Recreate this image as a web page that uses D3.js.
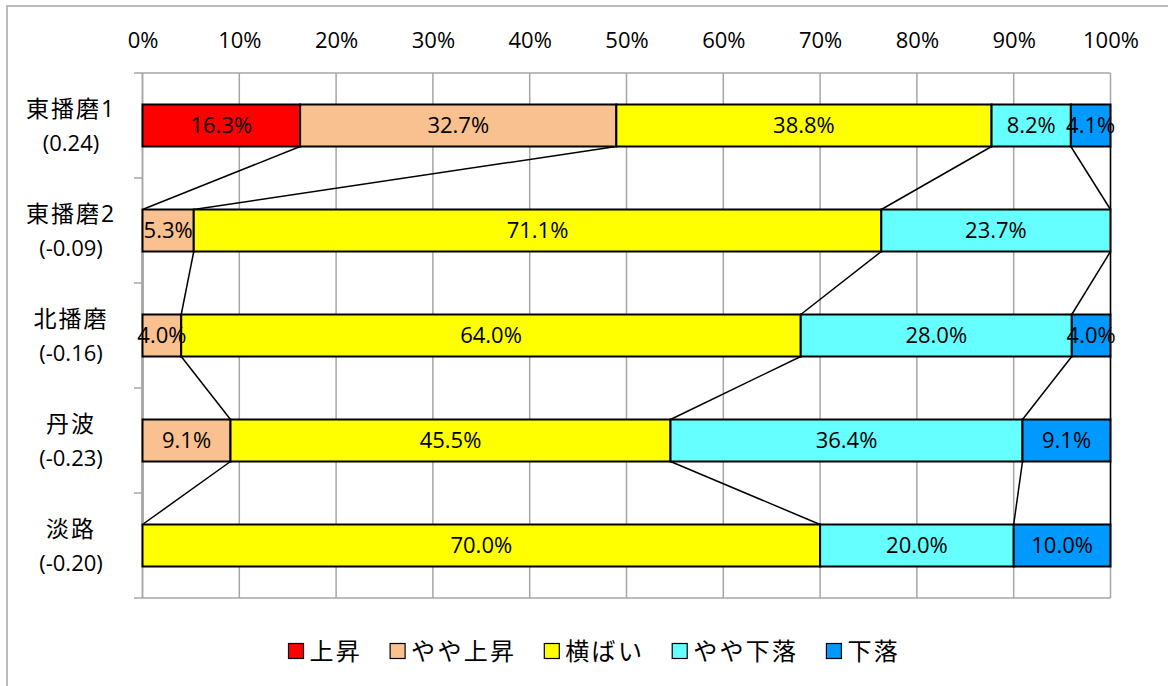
<!DOCTYPE html>
<html>
<head>
<meta charset="utf-8">
<script src="https://cdn.jsdelivr.net/npm/d3@7/dist/d3.min.js"></script>
<style>
  html, body { margin: 0; padding: 0; background: #fff; }
  svg { display: block; }
  text { font-family: "Open Sans", "Noto Sans CJK JP", sans-serif; fill: #000; }
</style>
</head>
<body>
<svg id="chart" width="1168" height="686"></svg>
<script>
const categories = ["東播磨1", "東播磨2", "北播磨", "丹波", "淡路"];
const categorySub = ["(0.24)", "(-0.09)", "(-0.16)", "(-0.23)", "(-0.20)"];
const seriesNames = ["上昇", "やや上昇", "横ばい", "やや下落", "下落"];
const seriesColors = ["#FF0000", "#F9C090", "#FFFF00", "#66FFFF", "#0099FF"];
const v_up      = [16.3, 0,    0,    0,    0];
const v_slUp    = [32.7, 5.3,  4.0,  9.1,  0];
const v_flat    = [38.8, 71.1, 64.0, 45.5, 70.0];
const v_slDown  = [8.2,  23.7, 28.0, 36.4, 20.0];
const v_down    = [4.1,  0,    4.0,  9.1,  10.0];
const tickValues = [0, 0.1, 0.2, 0.3, 0.4, 0.5, 0.6, 0.7, 0.8, 0.9, 1.0];

(function () {
const seriesValues = [v_up, v_slUp, v_flat, v_slDown, v_down];
const rows = categories.map((c, i) => {
  const r = { cat: c };
  seriesNames.forEach((s, k) => r[s] = seriesValues[k][i]);
  return r;
});

const svg = d3.select("#chart");
const pLeft = 142.5, pRight = 1110.5, pTop = 73, pBottom = 598;

const x = d3.scaleLinear().domain([0, 1]).range([pLeft, pRight]);
const y = d3.scaleBand().domain(categories).range([pTop, pBottom]).paddingInner(0.6).paddingOuter(0.3);

const stack = d3.stack().keys(seriesNames).offset(d3.stackOffsetExpand);
const stacked = stack(rows);

// outer border
svg.append("rect").attr("x", 7).attr("y", 6).attr("width", 1170).attr("height", 700)
  .attr("fill", "none").attr("stroke", "#a6a6a6").attr("stroke-width", 1.5);

// gridlines
svg.append("g").selectAll("line").data(tickValues).join("line")
  .attr("x1", d => x(d)).attr("x2", d => x(d))
  .attr("y1", pTop).attr("y2", pBottom)
  .attr("stroke", "#a6a6a6").attr("stroke-width", 1.5);

// top axis labels
const xAxis = d3.axisTop(x).tickValues(tickValues).tickFormat(d3.format(".0%")).tickSize(0).tickPadding(0);
const gx = svg.append("g").attr("transform", `translate(0,48)`).call(xAxis);
gx.select(".domain").remove();
gx.selectAll("text").attr("font-size", 22).attr("font-family", "'Open Sans', sans-serif").attr("fill", "#000").attr("dy", 0);

// series lines
const lineG = svg.append("g");
stacked.forEach(layer => {
  for (let i = 0; i < categories.length - 1; i++) {
    const a = layer[i], b = layer[i + 1];
    lineG.append("line")
      .attr("x1", x(a[1])).attr("y1", y(categories[i]) + y.bandwidth())
      .attr("x2", x(b[1])).attr("y2", y(categories[i + 1]))
      .attr("stroke", "#000").attr("stroke-width", 1.5);
  }
});

// axis lines (category axis on left, top and bottom lines)
svg.append("line").attr("x1", pLeft).attr("x2", pLeft).attr("y1", pTop).attr("y2", pBottom)
  .attr("stroke", "#a6a6a6").attr("stroke-width", 1.5);
const bounds = [pTop].concat(categories.map(c => y(c) - y.step() * y.paddingInner() / 2 + y.step()));
bounds.forEach((b, i) => {
  svg.append("line").attr("x1", 134).attr("x2", i === 0 || i === bounds.length - 1 ? pRight : pLeft)
    .attr("y1", b).attr("y2", b).attr("stroke", "#a6a6a6").attr("stroke-width", 1.5);
});

// bars
const barG = svg.append("g");
stacked.forEach((layer, k) => {
  barG.selectAll(null).data(layer.filter(d => d[1] - d[0] > 0)).join("rect")
    .attr("x", d => x(d[0])).attr("width", d => x(d[1]) - x(d[0]))
    .attr("y", d => y(d.data.cat)).attr("height", y.bandwidth())
    .attr("fill", seriesColors[k]).attr("stroke", "#000").attr("stroke-width", 2);
});

// data labels
stacked.forEach((layer, k) => {
  barG.selectAll(null).data(layer.filter(d => d.data[layer.key] > 0)).join("text")
    .attr("x", d => (x(d[0]) + x(d[1])) / 2)
    .attr("y", d => y(d.data.cat) + y.bandwidth() / 2)
    .attr("dy", "0.35em").attr("text-anchor", "middle").attr("font-size", 22)
    .text(d => d.data[layer.key].toFixed(1) + "%");
});

// category labels
categories.forEach((c, i) => {
  const cy = y(c) + y.bandwidth() / 2;
  svg.append("text").attr("x", 71).attr("y", cy - 17).attr("dy", "0.35em")
    .attr("text-anchor", "middle").attr("font-size", 23).attr("letter-spacing", 2).text(c);
  svg.append("text").attr("x", 71).attr("y", cy + 18).attr("dy", "0.35em")
    .attr("text-anchor", "middle").attr("font-size", 22).text(categorySub[i]);
});

// legend
const lg = svg.append("g");
let lx = 288.5;
const ly = 651;
seriesNames.forEach((s, k) => {
  lg.append("rect").attr("x", lx).attr("y", ly - 7.5).attr("width", 15).attr("height", 15)
    .attr("fill", seriesColors[k]).attr("stroke", "#000").attr("stroke-width", 1.2);
  const t = lg.append("text").attr("x", lx + 21).attr("y", ly + 1).attr("dy", "0.35em")
    .attr("font-size", 24).attr("letter-spacing", 2.3).text(s);
  lx += 21 + t.node().getComputedTextLength() + 28;
});
})();
</script>
</body>
</html>
